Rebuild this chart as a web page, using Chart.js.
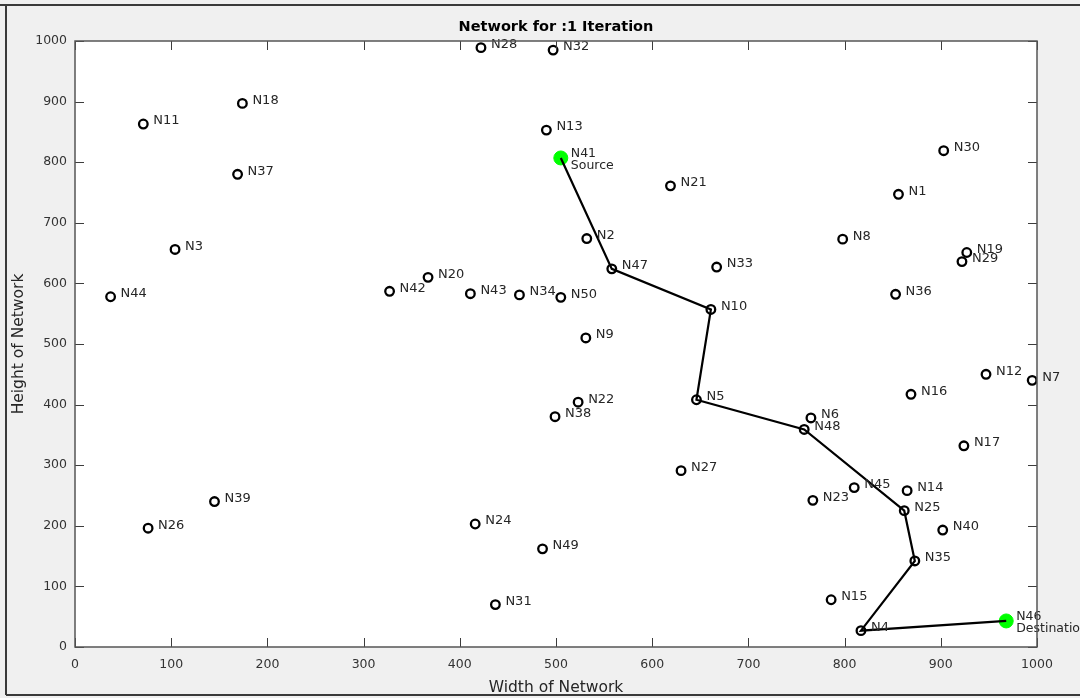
<!DOCTYPE html>
<html>
<head>
<meta charset="utf-8">
<script src="https://cdn.jsdelivr.net/npm/chart.js@4.4.0/dist/chart.umd.min.js"></script>
<style>
html,body{margin:0;padding:0;background:#f0f0f0;overflow:hidden;}
#wrap{position:relative;width:1080px;height:698px;}
</style>
</head>
<body>
<div id="wrap"><canvas id="c" width="1080" height="698"></canvas></div>
<script>
// ---- data ----
const nodeNames = ['N1','N2','N3','N4','N5','N6','N7','N8','N9','N10',
  'N11','N12','N13','N14','N15','N16','N17','N18','N19','N20',
  'N21','N22','N23','N24','N25','N26','N27','N28','N29','N30',
  'N31','N32','N33','N34','N35','N36','N37','N38','N39','N40',
  'N41','N42','N43','N44','N45','N46','N47','N48','N49','N50'];
const nodeX = [856,532,104,817,646,765,995,798,531,661,
  71,947,490,865,786,869,924,174,927,367,
  619,523,767,416,862,76,630,422,922,903,
  437,497,667,462,873,853,169,499,145,902,
  505,327,411,37,810,968,558,758,486,505];
const nodeY = [747,674,656,27,408,378,440,673,510,557,
  863,450,853,258,78,417,332,897,651,610,
  761,404,242,203,225,196,291,989,636,819,
  70,985,627,581,142,582,780,380,240,193,
  807,587,583,578,263,43,624,359,162,577];
const pathNodes = ['N41','N47','N10','N5','N48','N25','N35','N4','N46'];
const sourceNode = 'N41';
const destNode = 'N46';
const sourceLabel = 'Source';
const destLabel = 'Destination';
const xTicks = [0,100,200,300,400,500,600,700,800,900,1000];
const yTicks = [0,100,200,300,400,500,600,700,800,900,1000];
const chartTitle = 'Network for :1 Iteration';
const xTitle = 'Width of Network';
const yTitle = 'Height of Network';

// ---- derived ----
const idx = n => nodeNames.indexOf(n);
const allPoints = nodeNames.map((n,i)=>({x:nodeX[i], y:nodeY[i]}));
const pathPoints = pathNodes.map(n=>({x:nodeX[idx(n)], y:nodeY[idx(n)]}));
const endPoints = [sourceNode, destNode].map(n=>({x:nodeX[idx(n)], y:nodeY[idx(n)]}));

const FONT = '"DejaVu Sans", sans-serif';
const TICK_LEN = 9;

const decor = {
  id: 'decor',
  beforeDraw(chart){
    const {ctx, chartArea:a, width, height} = chart;
    ctx.save();
    ctx.fillStyle = '#f0f0f0';
    ctx.fillRect(0,0,width,height);
    ctx.fillStyle = '#ffffff';
    ctx.fillRect(a.left, a.top, a.right-a.left, a.bottom-a.top);
    // window frame
    ctx.strokeStyle = '#3a3a3a';
    ctx.lineWidth = 2;
    ctx.beginPath();
    ctx.moveTo(0,5); ctx.lineTo(width,5);
    ctx.moveTo(6,5); ctx.lineTo(6,height-3);
    ctx.moveTo(6,height-3); ctx.lineTo(width,height-3);
    ctx.stroke();
    ctx.restore();
  },
  afterDatasetsDraw(chart){
    const {ctx} = chart;
    const xs = chart.scales.x, ys = chart.scales.y;
    ctx.save();
    ctx.fillStyle = '#262626';
    ctx.textAlign = 'left';
    ctx.textBaseline = 'middle';
    nodeNames.forEach((n,i)=>{
      const px = xs.getPixelForValue(nodeX[i]);
      const py = ys.getPixelForValue(nodeY[i]);
      if (n === sourceNode || n === destNode) {
        ctx.font = '12.5px ' + FONT;
        ctx.fillText(n, px+10, py-4.5);
        ctx.fillText(n === sourceNode ? sourceLabel : destLabel, px+10, py+8);
      } else {
        ctx.font = '13px ' + FONT;
        ctx.fillText(n, px+10, py-3);
      }
    });
    ctx.restore();
  },
  afterDraw(chart){
    const {ctx, chartArea:a} = chart;
    const xs = chart.scales.x, ys = chart.scales.y;
    ctx.save();
    ctx.strokeStyle = '#3c3c3c';
    ctx.lineWidth = 1;
    ctx.beginPath();
    xs.ticks.forEach(t=>{
      const px = Math.round(xs.getPixelForValue(t.value))+0.5;
      ctx.moveTo(px, a.bottom); ctx.lineTo(px, a.bottom-TICK_LEN);
      ctx.moveTo(px, a.top); ctx.lineTo(px, a.top+TICK_LEN);
    });
    ys.ticks.forEach(t=>{
      const py = Math.round(ys.getPixelForValue(t.value))+0.5;
      ctx.moveTo(a.left, py); ctx.lineTo(a.left+TICK_LEN, py);
      ctx.moveTo(a.right, py); ctx.lineTo(a.right-TICK_LEN, py);
    });
    ctx.stroke();
    ctx.strokeStyle = '#555555';
    ctx.lineWidth = 1.5;
    ctx.strokeRect(a.left, a.top, a.right-a.left, a.bottom-a.top);
    ctx.restore();
  }
};

new Chart(document.getElementById('c'), {
  type: 'scatter',
  data: {
    datasets: [
      {
        label: 'path',
        type: 'line',
        data: pathPoints,
        borderColor: '#000000',
        borderWidth: 2.2,
        pointRadius: 0,
        fill: false,
        tension: 0,
        order: 0
      },
      {
        label: 'endpoints',
        data: endPoints,
        pointStyle: 'circle',
        pointRadius: 7,
        backgroundColor: '#00ff00',
        borderColor: '#00ff00',
        borderWidth: 1,
        order: 1
      },
      {
        label: 'nodes',
        data: allPoints,
        pointStyle: 'circle',
        pointRadius: 4.3,
        backgroundColor: 'rgba(0,0,0,0)',
        borderColor: '#000000',
        borderWidth: 2.3,
        order: 2
      }
    ]
  },
  options: {
    responsive: false,
    animation: false,
    events: [],
    layout: { padding: { left: 6, right: 43, top: 0, bottom: 0 } },
    plugins: {
      legend: { display: false },
      tooltip: { enabled: false },
      title: {
        display: true,
        fullSize: false,
        text: chartTitle,
        color: '#000000',
        font: { family: FONT, size: 14.5, weight: 'bold' },
        padding: { top: 18.8, bottom: 4.8 }
      }
    },
    scales: {
      x: {
        type: 'linear',
        position: 'bottom',
        min: 0, max: 1000,
        afterBuildTicks: s => { s.ticks = xTicks.map(v=>({value:v})); },
        afterFit: s => { s.height = 51; },
        grid: { display: false, drawTicks: false },
        border: { display: false },
        ticks: { padding: 10, color: '#333333', maxRotation: 0, autoSkip: false,
                 callback: v => String(v),
                 font: { family: FONT, size: 12.5 } },
        title: { display: true, text: xTitle, color: '#262626',
                 font: { family: FONT, size: 15.5 }, padding: { top: 0, bottom: 1 } }
      },
      y: {
        type: 'linear',
        position: 'left',
        min: 0, max: 1000,
        afterBuildTicks: s => { s.ticks = yTicks.map(v=>({value:v})); },
        afterFit: s => { s.width = 69; },
        grid: { display: false, drawTicks: false },
        border: { display: false },
        ticks: { padding: 8, color: '#333333', autoSkip: false,
                 callback: v => String(v),
                 font: { family: FONT, size: 12.5 } },
        title: { display: true, text: yTitle, color: '#262626',
                 font: { family: FONT, size: 15.5 }, padding: { top: 4, bottom: 0 } }
      }
    }
  },
  plugins: [decor]
});
</script>
</body>
</html>
